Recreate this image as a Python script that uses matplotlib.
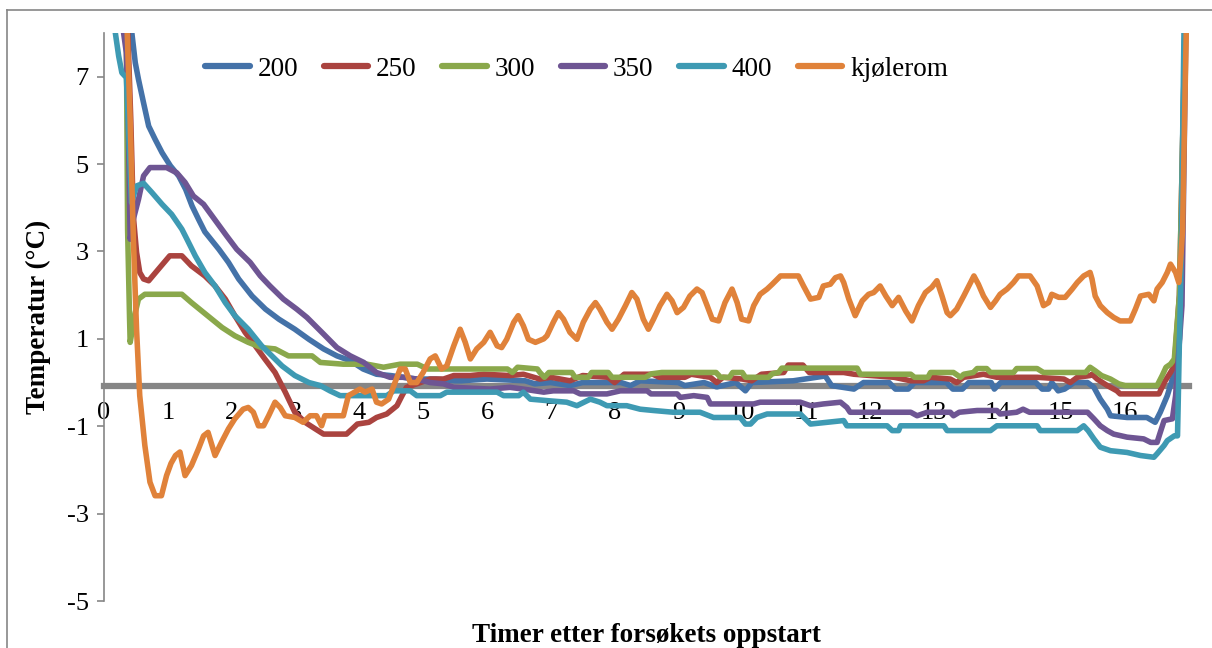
import matplotlib
matplotlib.use("Agg")
import matplotlib.pyplot as plt
from matplotlib.lines import Line2D

plt.rcParams['font.family'] = ['Liberation Serif', 'DejaVu Serif']
plt.rcParams['axes.unicode_minus'] = False

# ---- data: hours since start vs. temperature (°C) ----
series_names = ["200", "250", "300", "350", "400", "kjølerom"]
series_colors = ["#4472A8", "#AA433F", "#8AA84B", "#6E5593", "#3E9AB3", "#E0823A"]

x_200 = [0.40, 0.43, 0.49, 0.54, 0.62, 0.70, 0.80, 0.91, 1.04, 1.17, 1.28, 1.38, 1.48, 1.58,
         1.80, 1.95, 2.11, 2.32, 2.53, 2.74, 2.99, 3.21, 3.44, 3.65, 3.86, 4.06, 4.27, 4.49,
         4.69, 4.90, 5.20, 5.50, 5.60, 6.00, 6.60, 6.75, 7.00, 7.30, 7.50, 8.10, 8.25, 8.40,
         9.00, 9.10, 9.40, 9.60, 9.90, 10.05, 10.15, 10.80, 11.30, 11.40, 11.75, 11.90, 12.30,
         12.40, 12.60, 12.70, 13.20, 13.30, 13.45, 13.55, 13.90, 13.95, 14.05, 14.60, 14.70,
         14.80, 14.85, 14.95, 15.05, 15.20, 15.41, 15.51, 15.61, 15.72, 15.77, 16.03, 16.34,
         16.47, 16.55, 16.66, 16.74, 16.79, 16.85, 16.90, 16.95]
y_200 = [8.60, 8.08, 7.32, 6.94, 6.40, 5.87, 5.57, 5.26, 4.96, 4.73, 4.42, 4.04, 3.74, 3.45,
         3.05, 2.75, 2.37, 1.98, 1.68, 1.45, 1.22, 0.99, 0.77, 0.61, 0.50, 0.31, 0.19, 0.16,
         0.12, 0.08, 0.08, 0.04, 0.04, 0.08, 0.04, -0.03, 0.00, -0.07, 0.00, 0.00, -0.07, 0.04,
         0.00, -0.07, 0.00, -0.10, 0.00, -0.19, 0.00, 0.04, 0.15, -0.07, -0.15, 0.00, 0.00,
         -0.15, -0.15, 0.00, 0.00, -0.15, -0.15, 0.00, 0.00, -0.15, 0.00, 0.00, -0.15,
         -0.15, 0.00, -0.19, -0.15, 0.00, 0.00, -0.11, -0.38, -0.61, -0.76, -0.80, -0.80,
         -0.91, -0.68, -0.30, 0.08, 0.23, 1.00, 4.00, 9.00]

x_250 = [0.36, 0.42, 0.46, 0.51, 0.56, 0.62, 0.70, 0.85, 1.03, 1.22, 1.37, 1.58, 1.74, 1.90,
         2.05, 2.21, 2.37, 2.52, 2.68, 2.84, 2.99, 3.15, 3.31, 3.44, 3.80, 3.89, 3.97, 4.15,
         4.27, 4.43, 4.59, 4.67, 4.74, 4.90, 5.11, 5.32, 5.48, 5.74, 5.95, 6.36, 6.57, 6.83,
         7.00, 7.30, 7.50, 7.90, 8.00, 8.15, 8.60, 8.70, 9.10, 9.20, 9.50, 9.60, 9.70, 10.00,
         10.15, 10.30, 10.65, 10.72, 10.95, 11.05, 11.59, 11.75, 12.38, 12.64, 12.84, 12.95,
         13.26, 13.36, 13.47, 13.78, 13.99, 14.62, 15.04, 15.14, 15.25, 15.45, 15.48, 15.56,
         15.72, 15.87, 15.92, 16.53, 16.61, 16.71, 16.77, 16.85, 16.95]
y_250 = [8.60, 6.00, 3.80, 2.98, 2.52, 2.37, 2.33, 2.59, 2.90, 2.90, 2.67, 2.44, 2.21, 1.91,
         1.53, 1.15, 0.84, 0.54, 0.23, -0.22, -0.68, -0.91, -1.06, -1.18, -1.18, -1.06, -0.95, -0.91,
         -0.80, -0.72, -0.53, -0.30, -0.11, -0.03, 0.08, 0.08, 0.16, 0.16, 0.19, 0.16, 0.19, 0.08,
         0.12, 0.04, 0.16, 0.12, 0.00, 0.19, 0.19, 0.12, 0.12, 0.19, 0.12, 0.00, 0.12, 0.08,
         0.04, 0.19, 0.23, 0.40, 0.40, 0.23, 0.23, 0.19, 0.12, 0.04, 0.04, 0.12,
         0.08, 0.00, 0.12, 0.19, 0.12, 0.12, 0.08, 0.00, 0.12, 0.16, 0.19, 0.08,
         -0.07, -0.19, -0.26, -0.26, 0.00, 0.23, 0.38, 2.00, 9.00]

x_300 = [0.30, 0.35, 0.37, 0.40, 0.41, 0.49, 0.54, 0.64, 1.22, 1.37, 1.53, 1.69, 1.85, 2.05,
         2.26, 2.47, 2.68, 2.89, 3.26, 3.39, 3.75, 4.12, 4.38, 4.64, 4.91, 5.07, 6.32, 6.40,
         6.48, 6.79, 6.83, 6.90, 6.97, 7.33, 7.38, 7.59, 7.64, 7.90, 7.96, 8.48, 8.58, 8.74,
         9.59, 9.66, 9.80, 9.85, 10.00, 10.05, 10.41, 10.47, 10.57, 10.62, 11.80, 11.85, 12.64,
         12.70, 12.91, 12.95, 13.31, 13.42, 13.47, 13.62, 13.68, 13.83, 13.89, 14.25, 14.30,
         14.62, 14.72, 15.38, 15.45, 15.53, 15.63, 15.77, 15.90, 16.00, 16.50, 16.58, 16.64,
         16.71, 16.77, 16.85, 16.95]
y_300 = [8.60, 8.00, 3.50, 1.50, 0.92, 1.60, 1.91, 2.02, 2.02, 1.83, 1.64, 1.45, 1.26, 1.07,
         0.92, 0.80, 0.77, 0.61, 0.61, 0.46, 0.42, 0.42, 0.35, 0.42, 0.42, 0.31, 0.31, 0.23,
         0.35, 0.31, 0.23, 0.12, 0.23, 0.23, 0.12, 0.12, 0.23, 0.23, 0.12, 0.12, 0.20, 0.23,
         0.23, 0.12, 0.12, 0.23, 0.23, 0.12, 0.12, 0.20, 0.23, 0.33, 0.33, 0.19, 0.19,
         0.12, 0.12, 0.23, 0.23, 0.12, 0.19, 0.23, 0.32, 0.32, 0.23, 0.23, 0.32,
         0.32, 0.23, 0.23, 0.35, 0.27, 0.16, 0.08, -0.03, -0.07, -0.07, 0.16, 0.35,
         0.42, 0.54, 2.00, 9.00]

x_350 = [0.27, 0.30, 0.35, 0.38, 0.41, 0.46, 0.54, 0.62, 0.72, 0.98, 1.14, 1.27, 1.40, 1.56,
         1.77, 1.92, 2.08, 2.29, 2.45, 2.60, 2.81, 3.02, 3.18, 3.31, 3.44, 3.65, 3.86, 4.07,
         4.27, 4.48, 4.69, 4.90, 5.11, 5.32, 5.48, 6.05, 6.36, 6.57, 6.89, 7.04, 7.36, 7.46,
         7.88, 8.09, 8.51, 8.57, 8.98, 9.03, 9.24, 9.45, 9.50, 10.18, 10.28, 10.91, 11.07,
         11.27, 11.54, 11.64, 11.69, 12.64, 12.74, 12.90, 13.26, 13.31, 13.40, 13.68, 13.99,
         14.04, 14.30, 14.40, 14.50, 15.41, 15.51, 15.61, 15.72, 15.82, 16.03, 16.29, 16.40,
         16.50, 16.55, 16.61, 16.74, 16.79, 16.89, 16.96]
y_350 = [8.60, 8.08, 7.55, 6.02, 3.28, 3.74, 4.19, 4.73, 4.92, 4.92, 4.80, 4.58, 4.27, 4.08,
         3.66, 3.36, 3.05, 2.75, 2.44, 2.21, 1.91, 1.68, 1.49, 1.30, 1.11, 0.80, 0.61, 0.46,
         0.23, 0.12, 0.12, 0.08, 0.00, -0.03, -0.11, -0.15, -0.11, -0.15, -0.22, -0.19, -0.19, -0.26,
         -0.26, -0.19, -0.19, -0.26, -0.26, -0.34, -0.30, -0.34, -0.49, -0.49, -0.45, -0.45, -0.53,
         -0.49, -0.45, -0.57, -0.68, -0.68, -0.76, -0.68, -0.68, -0.76, -0.68, -0.64, -0.64,
         -0.72, -0.68, -0.61, -0.68, -0.68, -0.83, -0.99, -1.10, -1.18, -1.25, -1.29, -1.37,
         -1.37, -1.14, -0.87, -0.83, -0.30, 1.76, 9.00]

x_400 = [0.15, 0.17, 0.23, 0.28, 0.35, 0.38, 0.43, 0.51, 0.62, 0.75, 0.91, 1.06, 1.22, 1.30,
         1.43, 1.58, 1.74, 1.90, 2.05, 2.26, 2.47, 2.63, 2.79, 2.99, 3.21, 3.39, 3.54, 3.70,
         4.43, 4.54, 4.80, 4.90, 5.27, 5.37, 6.16, 6.26, 6.50, 6.57, 6.68, 6.99, 7.25, 7.41,
         7.62, 7.77, 7.88, 8.19, 8.40, 8.61, 8.92, 9.34, 9.55, 9.97, 10.05, 10.13, 10.23, 10.39,
         10.91, 11.07, 11.59, 11.64, 12.27, 12.35, 12.45, 12.48, 13.16, 13.21, 13.89, 13.99,
         14.62, 14.67, 15.25, 15.35, 15.42, 15.51, 15.61, 15.77, 16.03, 16.24, 16.45, 16.50,
         16.61, 16.66, 16.77, 16.82, 16.83, 16.85, 16.87, 16.93]
y_400 = [8.60, 8.08, 7.47, 7.09, 6.98, 6.00, 4.12, 4.50, 4.56, 4.35, 4.08, 3.85, 3.51, 3.28,
         2.90, 2.52, 2.21, 1.83, 1.53, 1.22, 0.84, 0.61, 0.38, 0.16, 0.00, -0.07, -0.19, -0.30,
         -0.30, -0.19, -0.19, -0.30, -0.30, -0.22, -0.22, -0.30, -0.30, -0.22, -0.38, -0.42, -0.45, -0.53,
         -0.38, -0.45, -0.53, -0.53, -0.61, -0.64, -0.68, -0.68, -0.80, -0.80, -0.95, -0.95, -0.80, -0.72,
         -0.72, -0.95, -0.87, -0.99, -0.99, -1.10, -1.10, -0.99, -0.99, -1.10, -1.10, -0.99,
         -0.99, -1.10, -1.10, -0.99, -1.10, -1.29, -1.48, -1.56, -1.60, -1.67, -1.71, -1.63,
         -1.44, -1.33, -1.22, -1.22, -0.53, 0.99, 2.14, 9.00]

x_kjolerom = [0.35, 0.41, 0.46, 0.51, 0.56, 0.64, 0.72, 0.80, 0.90, 0.98, 1.05, 1.12, 1.19, 1.27,
              1.37, 1.48, 1.56, 1.63, 1.74, 1.84, 1.95, 2.05, 2.18, 2.26, 2.34, 2.42, 2.50, 2.58,
              2.68, 2.76, 2.84, 2.99, 3.12, 3.23, 3.33, 3.41, 3.46, 3.75, 3.83, 4.01, 4.09, 4.20,
              4.27, 4.35, 4.46, 4.56, 4.64, 4.72, 4.80, 4.90, 5.00, 5.11, 5.19, 5.29, 5.37, 5.48,
              5.58, 5.66, 5.74, 5.84, 5.95, 6.05, 6.16, 6.23, 6.31, 6.42, 6.49, 6.57, 6.65, 6.76,
              6.89, 6.94, 7.04, 7.12, 7.20, 7.30, 7.41, 7.51, 7.62, 7.70, 7.77, 7.88, 7.96, 8.06,
              8.17, 8.27, 8.35, 8.45, 8.53, 8.61, 8.71, 8.82, 8.90, 8.98, 9.08, 9.18, 9.29, 9.37,
              9.45, 9.53, 9.63, 9.73, 9.84, 9.92, 9.99, 10.10, 10.18, 10.28, 10.39, 10.47, 10.60,
              10.88, 10.96, 11.07, 11.20, 11.27, 11.38, 11.46, 11.54, 11.59, 11.67, 11.77, 11.88,
              11.98, 12.06, 12.16, 12.25, 12.35, 12.45, 12.56, 12.66, 12.76, 12.87, 12.97, 13.05,
              13.13, 13.21, 13.26, 13.36, 13.47, 13.55, 13.63, 13.70, 13.78, 13.89, 13.97, 14.04,
              14.15, 14.25, 14.33, 14.51, 14.62, 14.72, 14.80, 14.85, 14.96, 15.06, 15.17, 15.25,
              15.35, 15.45, 15.48, 15.53, 15.61, 15.72, 15.82, 15.92, 16.08, 16.16, 16.24, 16.37,
              16.45, 16.50, 16.58, 16.66, 16.71, 16.79, 16.84, 16.87, 16.90, 16.93, 16.97]
y_kjolerom = [8.60, 6.00, 3.30, 1.22, -0.30, -1.44, -2.28, -2.59, -2.59, -2.13, -1.85, -1.67, -1.59, -2.13,
              -1.90, -1.52, -1.22, -1.14, -1.67, -1.37, -1.06, -0.83, -0.61, -0.57, -0.68, -0.99, -0.99, -0.76,
              -0.45, -0.57, -0.76, -0.80, -0.91, -0.76, -0.76, -0.99, -0.76, -0.76, -0.30, -0.15, -0.22, -0.15,
              -0.45, -0.49, -0.38, 0.00, 0.31, 0.31, 0.00, 0.00, 0.23, 0.54, 0.61, 0.31, 0.38, 0.84,
              1.22, 0.92, 0.54, 0.77, 0.92, 1.15, 0.84, 0.80, 0.99, 1.38, 1.53, 1.30, 0.99, 0.92,
              1.00, 1.07, 1.38, 1.60, 1.45, 1.15, 0.99, 1.38, 1.68, 1.83, 1.68, 1.38, 1.22, 1.45,
              1.76, 2.06, 1.91, 1.45, 1.22, 1.45, 1.76, 2.02, 1.87, 1.60, 1.72, 1.98, 2.14, 2.06,
              1.76, 1.45, 1.41, 1.83, 2.14, 1.83, 1.45, 1.41, 1.76, 2.02, 2.14, 2.25, 2.44,
              2.44, 2.21, 1.91, 1.95, 2.21, 2.25, 2.40, 2.44, 2.29, 1.91, 1.53, 1.87,
              2.02, 2.06, 2.21, 1.98, 1.76, 1.95, 1.64, 1.41, 1.76, 2.06, 2.18, 2.33,
              1.98, 1.60, 1.53, 1.68, 1.98, 2.21, 2.44, 2.25, 1.98, 1.72, 1.87, 2.02,
              2.14, 2.29, 2.44, 2.44, 2.21, 1.76, 1.83, 2.02, 1.95, 1.95, 2.14, 2.29,
              2.44, 2.52, 2.37, 1.98, 1.76, 1.60, 1.49, 1.41, 1.41, 1.68, 1.98, 2.02,
              1.87, 2.14, 2.29, 2.52, 2.71, 2.52, 2.29, 2.82, 3.50, 6.00, 9.00]

x_series = [x_200, x_250, x_300, x_350, x_400, x_kjolerom]
y_series = [y_200, y_250, y_300, y_350, y_400, y_kjolerom]

y_ticks = [-5, -3, -1, 1, 3, 5, 7]
x_ticks = list(range(0, 17))

W, H = 1212, 648
fig = plt.figure(figsize=(W / 100, H / 100), dpi=100)
ax = fig.add_axes([104 / W, 1 - 601 / H, (1189 - 104) / W, (601 - 33) / H])
ax.set_xlim(0, 17)
ax.set_ylim(-5, 8)

handles = []
for xs, ys, name, col in zip(x_series, y_series, series_names, series_colors):
    ln, = ax.plot(xs, ys, color=col, lw=4.0, solid_joinstyle='round',
                  solid_capstyle='round', zorder=3, label=name)
    handles.append(ln)

axis_grey = '#868686'
for s in ('top', 'right'):
    ax.spines[s].set_visible(False)
ax.spines['left'].set_color(axis_grey)
ax.spines['left'].set_linewidth(1.2)
ax.spines['bottom'].set_position(('data', -0.07))
ax.spines['bottom'].set_color(axis_grey)
ax.spines['bottom'].set_linewidth(4.5)
ax.spines['bottom'].set_zorder(1)

ax.set_yticks(y_ticks)
ax.set_yticklabels([str(v) for v in y_ticks])
ax.tick_params(axis='y', direction='out', length=5, width=1.2, color=axis_grey,
               labelsize=19, pad=6)
ax.set_xticks(x_ticks)
ax.set_xticklabels([str(v) for v in x_ticks])
ax.tick_params(axis='x', length=0, labelsize=19, pad=12)

leg = fig.legend(handles=handles, labels=series_names, loc='center left',
                 bbox_to_anchor=(205 / W, 1 - 69 / H), ncol=6, frameon=False,
                 fontsize=19.5, handlelength=1.65, handletextpad=0.28,
                 columnspacing=0.95, borderpad=0, borderaxespad=0)
for ln in leg.get_lines():
    ln.set_linewidth(4.5)
    ln.set_solid_capstyle('round')

fig.text(38 / W, 1 - 317 / H, 'Temperatur (°C)', rotation=90, ha='center',
         va='center', fontsize=19.5, fontweight='bold')
fig.text(646 / W, 1 - 636 / H, 'Timer etter forsøkets oppstart', ha='center',
         va='center', fontsize=19.5, fontweight='bold')

# outer chart frame (top and left edges)
fx, fy = 7 / W, 1 - 10 / H
fig.add_artist(Line2D([fx, 1.0], [fy, fy], transform=fig.transFigure,
                      color=axis_grey, lw=1.2))
fig.add_artist(Line2D([fx, fx], [0.0, fy], transform=fig.transFigure,
                      color=axis_grey, lw=1.2))

fig.savefig('out.png', dpi=100)
